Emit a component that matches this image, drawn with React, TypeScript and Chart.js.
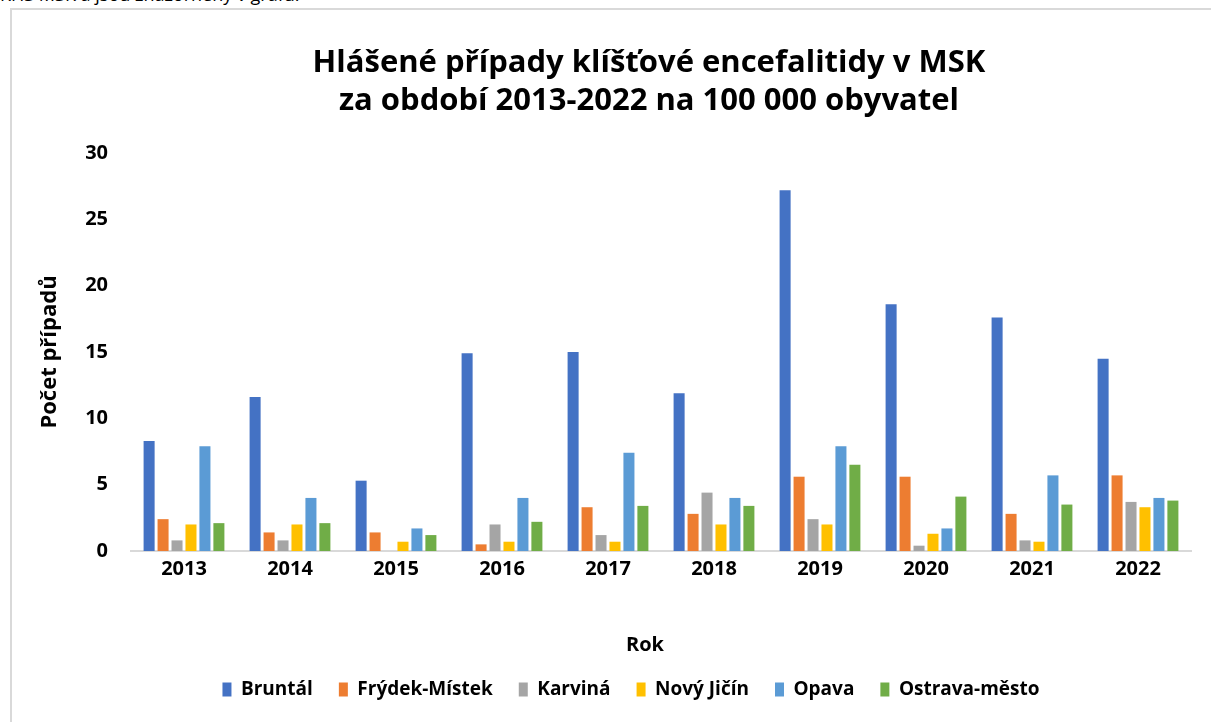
import React, { useEffect, useRef } from "react";
import { Chart, registerables } from "chart.js";

Chart.register(...registerables);

const categories = ["2013", "2014", "2015", "2016", "2017", "2018", "2019", "2020", "2021", "2022"];
const bruntal = [8.3, 11.6, 5.3, 14.9, 15.0, 11.9, 27.2, 18.6, 17.6, 14.5];
const frydekMistek = [2.4, 1.4, 1.4, 0.5, 3.3, 2.8, 5.6, 5.6, 2.8, 5.7];
const karvina = [0.8, 0.8, 0, 2.0, 1.2, 4.4, 2.4, 0.4, 0.8, 3.7];
const novyJicin = [2.0, 2.0, 0.7, 0.7, 0.7, 2.0, 2.0, 1.3, 0.7, 3.3];
const opava = [7.9, 4.0, 1.7, 4.0, 7.4, 4.0, 7.9, 1.7, 5.7, 4.0];
const ostravaMesto = [2.1, 2.1, 1.2, 2.2, 3.4, 3.4, 6.5, 4.1, 3.5, 3.8];

const seriesNames = ["Bruntál", "Frýdek-Místek", "Karviná", "Nový Jičín", "Opava", "Ostrava-město"];
const seriesColors = ["#4472C4", "#ED7D31", "#A5A5A5", "#FFC000", "#5B9BD5", "#70AD47"];
const titleLines = ["Hlášené případy klíšťové encefalitidy v MSK", "za období 2013-2022 na 100 000 obyvatel"];
const xTitle = "Rok";
const yTitle = "Počet případů";
const FONT = '"Open Sans", "DejaVu Sans", sans-serif';

const textPlugin = {
  id: "customTexts",
  afterDraw(chart: any) {
    const ctx = chart.ctx;
    ctx.save();
    ctx.fillStyle = "#000";
    ctx.textAlign = "center";
    ctx.textBaseline = "alphabetic";
    ctx.font = `bold 31px ${FONT}`;
    ctx.fillText(titleLines[0], 649, 72);
    ctx.fillText(titleLines[1], 649, 110);
    ctx.textBaseline = "middle";
    ctx.font = `bold 20px ${FONT}`;
    ctx.fillText(xTitle, 645, 645);
    ctx.translate(50, 352);
    ctx.rotate(-Math.PI / 2);
    ctx.font = `bold 22px ${FONT}`;
    ctx.fillText(yTitle, 0, 0);
    ctx.restore();
  },
};

export default function App() {
  const canvasRef = useRef<HTMLCanvasElement | null>(null);

  useEffect(() => {
    let chart: Chart | null = null;
    let cancelled = false;
    const build = () => {
      if (cancelled || !canvasRef.current) return;
      const values = [bruntal, frydekMistek, karvina, novyJicin, opava, ostravaMesto];
      chart = new Chart(canvasRef.current, {
        type: "bar",
        data: {
          labels: categories,
          datasets: seriesNames.map((name, i) => ({
            label: name,
            data: values[i],
            backgroundColor: seriesColors[i],
            borderWidth: 0,
            categoryPercentage: 0.79,
            barPercentage: 0.79,
          })),
        },
        options: {
          responsive: false,
          animation: false,
          devicePixelRatio: 1,
          layout: { padding: { top: 153, left: 71, right: 20, bottom: 13 } },
          plugins: {
            title: { display: false },
            tooltip: { enabled: false },
            legend: {
              display: true,
              position: "bottom",
              labels: {
                boxWidth: 9,
                boxHeight: 14,
                padding: 26,
                color: "#000",
                font: { family: FONT, size: 19, weight: "bold" },
              },
            },
          },
          scales: {
            x: {
              grid: { display: false, drawTicks: false },
              border: { display: true, color: "#d9d9d9", width: 2 },
              ticks: {
                color: "#000",
                padding: 6,
                font: { family: FONT, size: 20, weight: "bold" },
                maxRotation: 0,
              },
              afterFit: (scale: any) => {
                scale.height = 103;
              },
            },
            y: {
              min: 0,
              max: 30,
              grid: { display: false, drawTicks: false },
              border: { display: false },
              ticks: {
                stepSize: 5,
                color: "#000",
                padding: 23,
                font: { family: FONT, size: 20, weight: "bold" },
              },
              afterFit: (scale: any) => {
                scale.width = 60;
              },
            },
          },
        },
        plugins: [textPlugin],
      });
    };
    const fonts: any = (document as any).fonts;
    if (fonts && fonts.load) {
      Promise.all([
        fonts.load(`bold 20px ${FONT}`),
        fonts.load(`20px ${FONT}`),
      ]).then(build, build);
    } else {
      build();
    }
    return () => {
      cancelled = true;
      if (chart) chart.destroy();
    };
  }, []);

  return (
    <div
      style={{
        position: "fixed",
        left: 0,
        top: 0,
        width: 1211,
        height: 722,
        overflow: "hidden",
        background: "#fff",
      }}
    >
      <div
        style={{
          position: "absolute",
          left: 0,
          top: -15,
          whiteSpace: "nowrap",
          fontFamily: FONT,
          fontSize: 18,
          lineHeight: "18px",
          color: "#000",
        }}
      >
        KHS MSK a jsou znázorněny v grafu.
      </div>
      <div
        style={{
          position: "absolute",
          left: 10,
          top: 8,
          width: 1300,
          height: 800,
          border: "2px solid #d9d9d9",
          boxSizing: "border-box",
        }}
      />
      <canvas
        ref={canvasRef}
        width={1211}
        height={722}
        style={{ position: "absolute", left: 0, top: 0, width: 1211, height: 722 }}
      />
    </div>
  );
}
